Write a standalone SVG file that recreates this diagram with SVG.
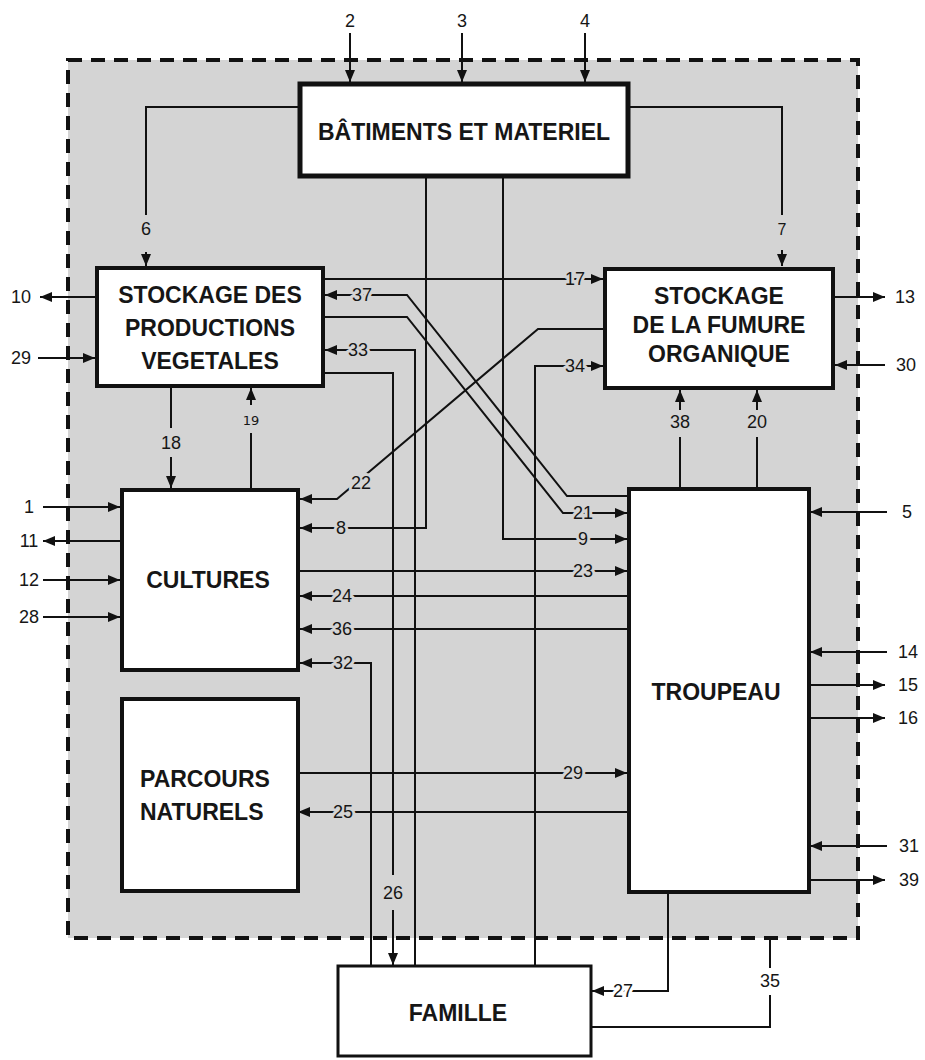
<svg xmlns="http://www.w3.org/2000/svg" width="925" height="1060" viewBox="0 0 925 1060">
<style>
.box{fill:#fff;stroke:#111;stroke-width:4}
.ttl{font-family:"Liberation Sans",Arial,sans-serif;font-weight:bold;font-size:23px;fill:#161616}
.c{fill:none;stroke:#111;stroke-width:2}
.a{marker-end:url(#ah)}
.l{font-family:"Liberation Sans",Arial,sans-serif;font-size:18px;fill:#161616;text-anchor:middle}
.hg{stroke:#d4d4d4;stroke-width:6;paint-order:stroke;stroke-linejoin:round}
.hw{stroke:#fff;stroke-width:6;paint-order:stroke;stroke-linejoin:round}
.s{font-family:"DejaVu Sans",sans-serif;font-size:13px;fill:#161616;text-anchor:middle}
</style>
<defs>
<marker id="ah" viewBox="0 0 12 10" refX="12" refY="5" markerWidth="12" markerHeight="10" markerUnits="userSpaceOnUse" orient="auto">
<path d="M0,0 L12,5 L0,10 z" fill="#111"/>
</marker>
</defs>
<rect width="925" height="1060" fill="#fff"/>
<rect id="boundary" x="68" y="60" width="790" height="878" fill="#d4d4d4" stroke="#111" stroke-width="4" stroke-dasharray="14 9"/>

<g id="connectors">
<line class="c a" x1="350" y1="33" x2="350" y2="82"/>
<line class="c a" x1="462" y1="33" x2="462" y2="82"/>
<line class="c a" x1="585" y1="33" x2="585" y2="82"/>
<polyline class="c" points="298,107 146,107 146,215"/>
<line class="c a" x1="146" y1="252" x2="146" y2="266"/>
<polyline class="c" points="630,107 782,107 782,215"/>
<line class="c a" x1="782" y1="250" x2="782" y2="266"/>
<line class="c a" x1="95" y1="297" x2="40" y2="297"/>
<line class="c a" x1="38" y1="358" x2="95" y2="358"/>
<line class="c a" x1="325" y1="279" x2="603" y2="279"/>
<polyline class="c a" points="627,496 567,496 407,295 325,295"/>
<polyline class="c a" points="325,317 407,317 563,513 627,513"/>
<polyline class="c a" points="415,965 415,350 325,350"/>
<polyline class="c" points="325,373 393,373 393,875"/>
<line class="c a" x1="393" y1="910" x2="393" y2="965"/>
<polyline class="c a" points="535,965 535,366 603,366"/>
<polyline class="c a" points="603,329 538,329 337,499 300,499"/>
<polyline class="c a" points="426,178 426,528 300,528"/>
<polyline class="c a" points="503,178 503,539 627,539"/>
<line class="c a" x1="298" y1="571" x2="627" y2="571"/>
<line class="c a" x1="627" y1="596" x2="300" y2="596"/>
<line class="c a" x1="627" y1="629" x2="300" y2="629"/>
<polyline class="c a" points="371,965 371,663 300,663"/>
<line class="c a" x1="298" y1="773" x2="627" y2="773"/>
<line class="c a" x1="627" y1="812" x2="298" y2="812"/>
<line class="c a" x1="43" y1="507" x2="120" y2="507"/>
<line class="c a" x1="120" y1="541" x2="43" y2="541"/>
<line class="c a" x1="43" y1="580" x2="120" y2="580"/>
<line class="c a" x1="43" y1="617" x2="120" y2="617"/>
<line class="c" x1="171" y1="388" x2="171" y2="428"/>
<line class="c a" x1="171" y1="457" x2="171" y2="488"/>
<line class="c" x1="251" y1="488" x2="251" y2="433"/>
<line class="c a" x1="251" y1="405" x2="251" y2="388"/>
<line class="c" x1="680" y1="487" x2="680" y2="437"/>
<line class="c a" x1="680" y1="410" x2="680" y2="390"/>
<line class="c" x1="757" y1="487" x2="757" y2="437"/>
<line class="c a" x1="757" y1="410" x2="757" y2="390"/>
<line class="c a" x1="835" y1="297" x2="885" y2="297"/>
<line class="c a" x1="885" y1="365" x2="835" y2="365"/>
<line class="c a" x1="887" y1="512" x2="810" y2="512"/>
<line class="c a" x1="887" y1="652" x2="810" y2="652"/>
<line class="c a" x1="810" y1="685" x2="885" y2="685"/>
<line class="c a" x1="810" y1="718" x2="885" y2="718"/>
<line class="c a" x1="887" y1="846" x2="810" y2="846"/>
<line class="c a" x1="810" y1="880" x2="885" y2="880"/>
<polyline class="c a" points="668,894 668,991 592,991"/>
<polyline class="c" points="592,1027 770,1027 770,995"/>
<line class="c" x1="770" y1="968" x2="770" y2="939"/>

<text class="l" x="350" y="27">2</text>
<text class="l" x="462" y="27">3</text>
<text class="l" x="585" y="27">4</text>
<text class="l" x="146" y="235">6</text>
<text class="l" x="782" y="235" style="font-size:16px">7</text>
<text class="l" x="21" y="303">10</text>
<text class="l" x="21" y="364">29</text>
<text class="l hg" x="575" y="285">17</text>
<text class="l hg" x="362" y="301">37</text>
<text class="l hg" x="358" y="356">33</text>
<text class="l hg" x="575" y="372">34</text>
<text class="l hg" x="361" y="489">22</text>
<text class="l hg" x="583" y="519">21</text>
<text class="l hg" x="341" y="534">8</text>
<text class="l hg" x="583" y="545">9</text>
<text class="l hg" x="583" y="577">23</text>
<text class="l hg" x="342" y="602">24</text>
<text class="l hg" x="342" y="635">36</text>
<text class="l hg" x="343" y="669">32</text>
<text class="l hg" x="573" y="779">29</text>
<text class="l hg" x="343" y="818">25</text>
<text class="l" x="393" y="899">26</text>
<text class="l hw" x="623" y="997">27</text>
<text class="l" x="770" y="987">35</text>
<text class="l" x="171" y="449">18</text>
<text class="s" x="251" y="425">19</text>
<text class="l" x="680" y="428">38</text>
<text class="l" x="757" y="428">20</text>
<text class="l" x="29" y="513">1</text>
<text class="l" x="29" y="547">11</text>
<text class="l" x="29" y="586">12</text>
<text class="l" x="29" y="623">28</text>
<text class="l" x="905" y="303">13</text>
<text class="l" x="906" y="371">30</text>
<text class="l" x="907" y="518">5</text>
<text class="l" x="908" y="658">14</text>
<text class="l" x="908" y="691">15</text>
<text class="l" x="908" y="724">16</text>
<text class="l" x="909" y="852">31</text>
<text class="l" x="909" y="886">39</text>
</g>

<g id="batiments">
<rect class="box" x="300" y="84" width="328" height="92" style="stroke-width:5"/>
<text class="ttl" x="464" y="140" text-anchor="middle">BÂTIMENTS ET MATERIEL</text>
</g>
<g id="stockage-productions">
<rect class="box" x="97" y="268" width="226" height="118"/>
<text class="ttl" x="210" y="303" text-anchor="middle">STOCKAGE DES</text>
<text class="ttl" x="210" y="336" text-anchor="middle">PRODUCTIONS</text>
<text class="ttl" x="210" y="369" text-anchor="middle">VEGETALES</text>
</g>
<g id="stockage-fumure">
<rect class="box" x="605" y="269" width="228" height="119"/>
<text class="ttl" x="719" y="304" text-anchor="middle">STOCKAGE</text>
<text class="ttl" x="719" y="333" text-anchor="middle">DE LA FUMURE</text>
<text class="ttl" x="719" y="362" text-anchor="middle">ORGANIQUE</text>
</g>
<g id="cultures">
<rect class="box" x="122" y="490" width="176" height="180"/>
<text class="ttl" x="208" y="588" text-anchor="middle">CULTURES</text>
</g>
<g id="parcours">
<rect class="box" x="122" y="699" width="176" height="192"/>
<text class="ttl" x="140" y="787">PARCOURS</text>
<text class="ttl" x="140" y="820">NATURELS</text>
</g>
<g id="troupeau">
<rect class="box" x="629" y="489" width="180" height="403"/>
<text class="ttl" x="716" y="700" text-anchor="middle">TROUPEAU</text>
</g>
<g id="famille">
<rect class="box" x="338" y="966" width="253" height="90" style="stroke-width:3"/>
<text class="ttl" x="458" y="1021" text-anchor="middle">FAMILLE</text>
</g>
</svg>
